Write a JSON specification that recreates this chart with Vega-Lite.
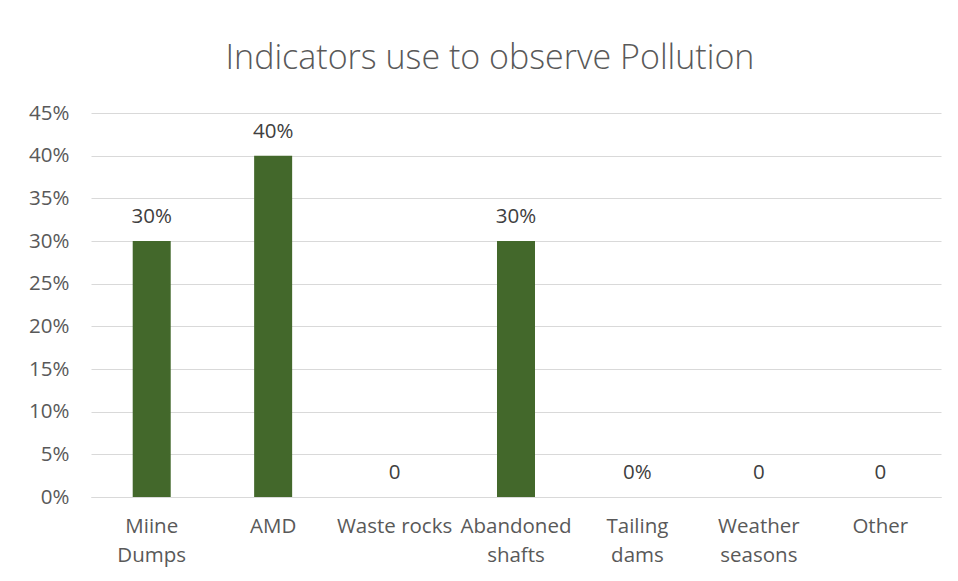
{
  "$schema": "https://vega.github.io/schema/vega-lite/v6.json",
  "autosize": "none",
  "width": 850,
  "height": 384,
  "padding": {"left": 91, "top": 113, "right": 17, "bottom": 84},
  "background": "white",
  "config": {"view": {"stroke": null}, "font": "Open Sans"},
  "title": {
    "text": "Indicators use to observe Pollution",
    "fontSize": 34,
    "font": "Open Sans",
    "fontWeight": 300,
    "color": "#595959",
    "anchor": "middle",
    "dx": -26,
    "baseline": "alphabetic",
    "offset": 0
  },
  "data": {
    "values": [
      {"cat": "Miine Dumps", "value": 0.30, "label": "30%"},
      {"cat": "AMD", "value": 0.40, "label": "40%"},
      {"cat": "Waste rocks", "value": 0, "label": "0"},
      {"cat": "Abandoned shafts", "value": 0.30, "label": "30%"},
      {"cat": "Tailing dams", "value": 0, "label": "0%"},
      {"cat": "Weather seasons", "value": 0, "label": "0"},
      {"cat": "Other", "value": 0, "label": "0"}
    ]
  },
  "encoding": {
    "x": {
      "field": "cat",
      "type": "nominal",
      "sort": null,
      "scale": {"paddingInner": 0.687, "paddingOuter": 0.3435},
      "axis": {
        "title": null,
        "labelAngle": 0,
        "labelFont": "Open Sans",
        "labelFontSize": 20.5,
        "labelColor": "#595959",
        "labelPadding": 19,
        "labelLineHeight": 29,
        "labelBaseline": "top",
        "ticks": false,
        "domain": true,
        "domainColor": "#d9d9d9",
        "labelOverlap": false,
        "labelBound": false,
        "labelFlush": false,
        "labelLimit": 200,
        "labelExpr": "datum.value == 'Miine Dumps' ? ['Miine','Dumps'] : datum.value == 'Abandoned shafts' ? ['Abandoned','shafts'] : datum.value == 'Tailing dams' ? ['Tailing','dams'] : datum.value == 'Weather seasons' ? ['Weather','seasons'] : datum.label"
      }
    },
    "y": {
      "field": "value",
      "type": "quantitative",
      "scale": {"domain": [0, 0.45], "nice": false},
      "axis": {
        "title": null,
        "values": [0, 0.05, 0.1, 0.15, 0.2, 0.25, 0.3, 0.35, 0.4, 0.45],
        "format": ".0%",
        "labelFont": "Open Sans",
        "labelFontSize": 20.5,
        "labelColor": "#595959",
        "labelPadding": 22,
        "ticks": false,
        "domain": false,
        "grid": true,
        "gridColor": "#d9d9d9",
        "gridWidth": 1
      }
    }
  },
  "layer": [
    {"mark": {"type": "bar", "color": "#43682b"}},
    {
      "mark": {"type": "text", "baseline": "alphabetic", "dy": -18, "fontSize": 20.5, "font": "Open Sans", "color": "#404040"},
      "encoding": {"text": {"field": "label"}}
    }
  ]
}
